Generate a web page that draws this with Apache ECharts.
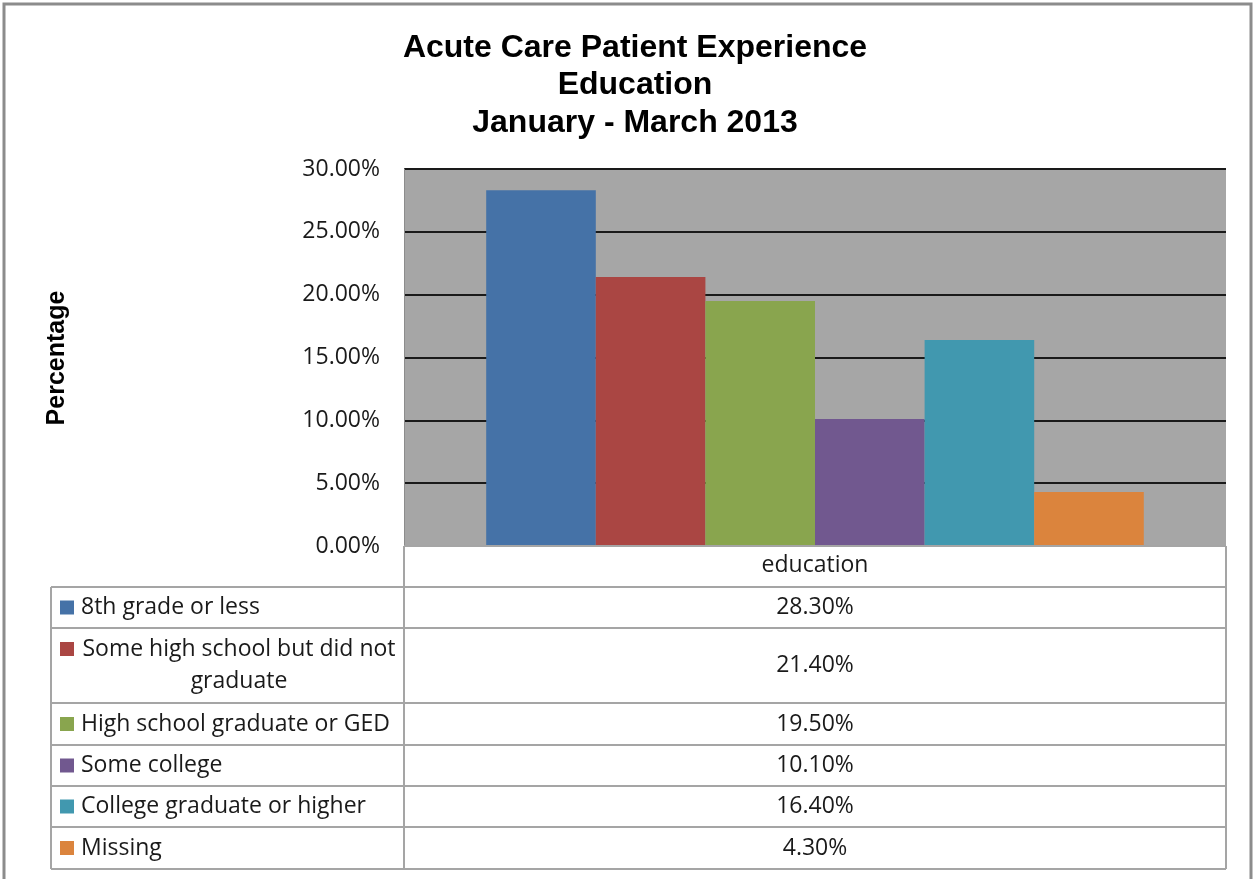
<!DOCTYPE html>
<html>
<head>
<meta charset="utf-8">
<script src="https://cdn.jsdelivr.net/npm/echarts@6/dist/echarts.min.js"></script>
<style>
  html, body { margin: 0; padding: 0; background: #fff; }
  #chart { width: 1254px; height: 879px; }
</style>
</head>
<body>
<div id="chart"></div>
<script>
// data
const categories = ['education']
const seriesNames = [
  '8th grade or less',
  'Some high school but did not\ngraduate',
  'High school graduate or GED',
  'Some college',
  'College graduate or higher',
  'Missing'
]
const seriesValues = [0.283, 0.214, 0.195, 0.101, 0.164, 0.043]
const colors = ['#4572A7', '#AA4643', '#89A54E', '#71588F', '#4198AF', '#DB843D']
const yTicks = { min: 0, max: 0.3, interval: 0.05 }

// layout
const plotLeft = 404
const plotRight = 1226
const plotTop = 169
const plotBottom = 546
const tableLeft = 51
const rowLines = [546, 587, 628, 703, 745, 786, 827, 869]
const labelFont = '"Open Sans", Lato, sans-serif'
const lineColor = '#A5A5A5'

const chart = echarts.init(document.getElementById('chart'))

function fmtPct(v) {
  return (v * 100).toFixed(2) + '%'
}

function buildTable() {
  const els = []
  // outer frame
  els.push({
    type: 'rect', shape: { x: 4, y: 4, width: 1247, height: 900 },
    style: { fill: 'none', stroke: '#8C8C8C', lineWidth: 3 }, z: 0
  })
  // horizontal rules
  rowLines.forEach((y, i) => {
    els.push({
      type: 'line',
      shape: { x1: i === 0 ? plotLeft : tableLeft, y1: y, x2: plotRight, y2: y },
      style: { stroke: lineColor, lineWidth: 2 }, z: 10
    })
  })
  const last = rowLines[rowLines.length - 1]
  ;[[plotLeft, rowLines[0]], [plotRight, rowLines[0]], [tableLeft, rowLines[1]]].forEach(([x, y0]) => {
    els.push({
      type: 'line', shape: { x1: x, y1: y0, x2: x, y2: last },
      style: { stroke: lineColor, lineWidth: 2 }, z: 10
    })
  })
  const midX = (plotLeft + plotRight) / 2
  seriesNames.forEach((name, i) => {
    const y0 = rowLines[i + 1]
    const y1 = rowLines[i + 2]
    const cy = (y0 + y1) / 2
    const twoLines = name.indexOf('\n') >= 0
    const keyY = twoLines ? y0 + 14 : cy - 7
    els.push({
      type: 'rect', shape: { x: 60, y: keyY, width: 14, height: 14 },
      style: { fill: colors[i] }, z: 10
    })
    els.push({
      type: 'text',
      style: {
        text: name, x: twoLines ? 239 : 81, y: cy,
        align: twoLines ? 'center' : 'left', verticalAlign: 'middle',
        font: '23px ' + labelFont, fill: '#1A1A1A', lineHeight: 32
      }, z: 10
    })
    els.push({
      type: 'text',
      style: {
        text: fmtPct(seriesValues[i]), x: midX, y: cy,
        align: 'center', verticalAlign: 'middle',
        font: '23px ' + labelFont, fill: '#1A1A1A'
      }, z: 10
    })
  })
  // y axis title
  els.push({
    type: 'text', rotation: Math.PI / 2, x: 57, y: 358,
    style: {
      text: 'Percentage', align: 'center', verticalAlign: 'middle',
      font: 'bold 25px "Liberation Sans", Arial, sans-serif', fill: '#000'
    }, z: 10
  })
  return els
}

chart.setOption({
  animation: false,
  title: {
    text: 'Acute Care Patient Experience\nEducation\nJanuary - March 2013',
    left: 630, top: 24, textAlign: 'center',
    textStyle: {
      fontFamily: '"Liberation Sans", Arial, sans-serif',
      fontWeight: 'bold', fontSize: 32, lineHeight: 37.5, color: '#000'
    }
  },
  grid: {
    left: plotLeft, top: plotTop, right: 1254 - plotRight, bottom: 879 - plotBottom,
    show: true, backgroundColor: '#A6A6A6', borderWidth: 0, containLabel: false
  },
  xAxis: {
    type: 'category',
    data: categories,
    axisLine: { show: false },
    axisTick: { show: false },
    axisLabel: {
      margin: 8, fontSize: 23, fontFamily: labelFont, color: '#1A1A1A'
    }
  },
  yAxis: {
    type: 'value',
    min: yTicks.min, max: yTicks.max, interval: yTicks.interval,
    axisLine: { show: true, lineStyle: { color: '#8C8C8C', width: 1 } },
    axisTick: { show: false },
    axisLabel: {
      margin: 24, fontSize: 23, fontFamily: labelFont, color: '#1A1A1A',
      formatter: fmtPct
    },
    splitLine: { show: true, lineStyle: { color: '#1A1A1A', width: 2 } }
  },
  series: seriesNames.map((name, i) => ({
    name: name.replace('\n', ' '),
    type: 'bar',
    data: [seriesValues[i]],
    barGap: '0%',
    barCategoryGap: '20%',
    itemStyle: { color: colors[i] },
    z: 2
  })),
  graphic: buildTable()
})
</script>
</body>
</html>
